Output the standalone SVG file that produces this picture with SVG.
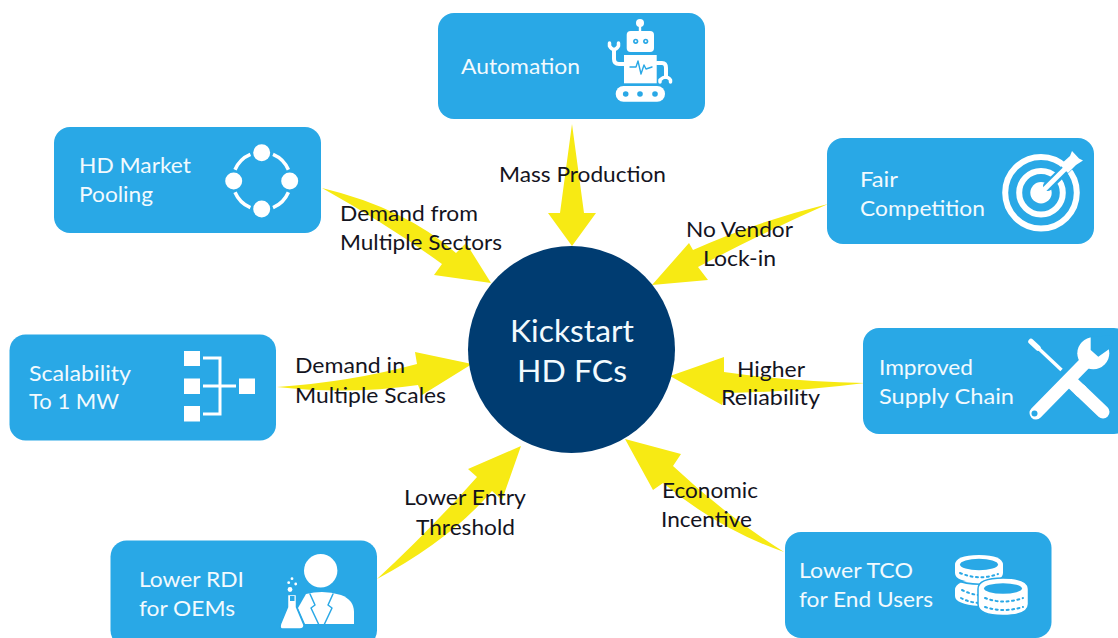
<svg xmlns="http://www.w3.org/2000/svg" width="1118" height="638" viewBox="0 0 1118 638">
<style>
text{font-family:"Lato","Open Sans","Liberation Sans",sans-serif;font-size:22px}
.n{fill:#29A8E6}
.t{fill:#F2FAFE}
.l{fill:#14141E}
.a{fill:#F7EA14}
.w{fill:#fff}
.b{fill:#29A8E6}
.ws{fill:none;stroke:#fff;stroke-linecap:round;stroke-linejoin:round}
.bs{fill:none;stroke:#29A8E6;stroke-linecap:round;stroke-linejoin:round}
</style>
<rect width="1118" height="638" fill="#fff"/>
<g id="connectors">
<path class="a" d="M572 124L584 213L596 213L572 246L548 213L560 213Z"/>
<path class="a" d="M322 188Q405 208 456 253L466 243L491 283L434 275L442 264Q390 226 322 188Z"/>
<path class="a" d="M828 204Q755 222 693 250L689 243L652 285L708 280L698 267Q760 234 828 204Z"/>
<path class="a" d="M277 387Q350 382 417 364L415 352L472 364L422 395L418 385Q350 395 277 387Z"/>
<path class="a" d="M865 383Q795 382 724 372L724 357L670 376L722 405L725 393Q795 392 865 383Z"/>
<path class="a" d="M377 579Q430 530 477 477L468 469L521 446L502 500L492 491Q450 540 377 579Z"/>
<path class="a" d="M784 552Q725 515 673 466L681 454L625 439L653 490L663 483Q720 530 784 552Z"/>
</g>
<g id="hub">
<circle cx="571.500" cy="349.500" r="103.500" fill="#003C71"/>
<text x="510" y="342" textLength="124" lengthAdjust="spacingAndGlyphs" style="font-size:30px" class="t">Kickstart</text>
<text x="517" y="382" textLength="110" lengthAdjust="spacingAndGlyphs" style="font-size:30px" class="t">HD FCs</text>
</g>
<g id="automation">
<rect class="n" x="438" y="13" width="267" height="106" rx="16"/>
<text class="t" x="461" y="74" textLength="119" lengthAdjust="spacingAndGlyphs">Automation</text>
<circle class="w" cx="640" cy="23" r="4"/><rect class="w" x="638.800" y="25" width="2.400" height="7"/>
<rect class="w" x="626.700" y="31" width="27.300" height="21" rx="4"/>
<circle class="b" cx="635.700" cy="41.300" r="2.600"/><circle class="w" cx="635.700" cy="41.300" r="1"/>
<circle class="b" cx="645.700" cy="41.300" r="2.600"/><circle class="w" cx="645.700" cy="41.300" r="1"/>
<rect class="w" x="624" y="55" width="32.700" height="28.300"/>
<path class="bs" stroke-width="1.400" d="M630 67H636L638 61L641 74L644 65L646 69L652 67"/>
<path class="ws" stroke-width="4" d="M624 64H619Q614 64 614 59V50"/>
<path class="ws" stroke-width="3.500" d="M609.500 43V46Q614 53 618.500 46V43"/>
<path class="ws" stroke-width="4" d="M657 63H662Q666 63 666 68V77"/>
<path class="ws" stroke-width="3.500" d="M660 82V80Q666 74 670.500 80V82"/>
<rect class="w" x="615.700" y="86" width="49.300" height="15.700" rx="7.800"/>
<circle class="b" cx="625.700" cy="94" r="2.800"/><circle class="b" cx="640" cy="94" r="2.800"/><circle class="b" cx="655" cy="94" r="2.800"/>
</g>
<g id="hd-market-pooling">
<rect class="n" x="54" y="127" width="267" height="106" rx="16"/>
<text class="t" x="79" y="173" textLength="112" lengthAdjust="spacingAndGlyphs">HD Market</text>
<text class="t" x="79" y="202" textLength="74" lengthAdjust="spacingAndGlyphs">Pooling</text>
<circle class="w" cx="261.700" cy="152.700" r="8.500"/><circle class="w" cx="233.700" cy="181" r="8.500"/><circle class="w" cx="289.700" cy="181" r="8.500"/><circle class="w" cx="261.700" cy="209" r="8.500"/>
<path fill="none" stroke="#fff" stroke-width="3.500" d="M273 154.300A29 29 0 0 1 288.400 169.700M288.400 192.300A29 29 0 0 1 273 207.700M250.400 207.700A29 29 0 0 1 235 192.300M235 169.700A29 29 0 0 1 250.400 154.300"/>
</g>
<g id="fair-competition">
<rect class="n" x="827" y="138" width="267" height="106" rx="16"/>
<text class="t" x="860" y="187" textLength="38" lengthAdjust="spacingAndGlyphs">Fair</text>
<text class="t" x="860" y="216" textLength="125" lengthAdjust="spacingAndGlyphs">Competition</text>
<circle cx="1041" cy="192.700" r="35.800" fill="none" stroke="#fff" stroke-width="6"/>
<circle cx="1041" cy="192.700" r="21.800" fill="none" stroke="#fff" stroke-width="6"/>
<circle class="w" cx="1041" cy="192.700" r="10.700"/>
<path class="bs" stroke-width="10" stroke-linecap="butt" d="M1048 186L1078 157"/>
<path fill="none" stroke="#fff" stroke-width="5" d="M1041 192.700L1070 164"/>
<path class="w" d="M1060 165L1070 156L1072 151L1079 158.500L1083 160.500L1076 165L1068 173Z"/>
</g>
<g id="scalability">
<rect class="n" x="9.500" y="334.500" width="266.500" height="106" rx="16"/>
<text class="t" x="29" y="381" textLength="102" lengthAdjust="spacingAndGlyphs">Scalability</text>
<text class="t" x="29" y="409" textLength="90" lengthAdjust="spacingAndGlyphs">To 1 MW</text>
<rect class="w" x="184" y="351" width="16" height="15"/><rect class="w" x="184" y="378.500" width="16" height="15.500"/><rect class="w" x="184" y="406" width="16" height="15.500"/><rect class="w" x="239" y="378.500" width="16" height="15.500"/>
<path fill="none" stroke="#fff" stroke-width="3" d="M203 358H220V414H203M203 386H236"/>
</g>
<g id="improved-supply-chain">
<rect class="n" x="863" y="328" width="267" height="106" rx="16"/>
<text class="t" x="879" y="375" textLength="94" lengthAdjust="spacingAndGlyphs">Improved</text>
<text class="t" x="879" y="404" textLength="135" lengthAdjust="spacingAndGlyphs">Supply Chain</text>
<path class="ws" stroke-width="5.500" d="M1031 341.500L1038 348"/>
<path fill="none" stroke="#fff" stroke-width="3.500" d="M1036 346L1061.500 370"/>
<path class="ws" stroke-width="13" d="M1080 390L1103 412"/>
<path fill="none" stroke="#fff" stroke-width="13" d="M1072 382.500L1082 392"/>
<path fill="#fff" stroke="#fff" stroke-width="13" stroke-linecap="round" d="M1036 413L1086 362"/>
<circle class="w" cx="1093.300" cy="353.300" r="16"/>
<path class="b" d="M1090.700 337L1090.700 350L1098.300 356.700L1111.700 347.300L1114 335Z"/>
<circle class="b" cx="1034.500" cy="413.500" r="3"/>
</g>
<g id="lower-rdi">
<rect class="n" x="110.500" y="540.500" width="266.500" height="106" rx="16"/>
<text class="t" x="139" y="587" textLength="105" lengthAdjust="spacingAndGlyphs">Lower RDI</text>
<text class="t" x="139" y="616" textLength="96" lengthAdjust="spacingAndGlyphs">for OEMs</text>
<circle class="w" cx="320.700" cy="570.700" r="16.700"/>
<path class="w" d="M306 594Q314 592 322 592Q331 592 341 595Q354 600 354 612V624H305L298 608Z"/>
<path class="bs" stroke-width="1.500" stroke-linecap="butt" d="M310 594L315 605L311 608L319 625M333 594L328 605L332 608L324 625"/>
<path class="w" stroke="#29A8E6" stroke-width="1.500" d="M287.500 594.500H296.500V607L304 625Q304 629 300 629H283Q279 629 280.500 624L287.500 607Z"/>
<rect class="b" x="290" y="596" width="4.500" height="5"/>
<circle class="w" cx="290" cy="589.500" r="2.400"/><circle class="w" cx="288.700" cy="582.700" r="1.400"/><circle class="w" cx="295.700" cy="584" r="1.400"/><circle class="w" cx="292" cy="578.700" r="1.400"/>
</g>
<g id="lower-tco">
<rect class="n" x="785" y="532" width="266.500" height="106" rx="16"/>
<text class="t" x="799" y="578" textLength="114" lengthAdjust="spacingAndGlyphs">Lower TCO</text>
<text class="t" x="799" y="607" textLength="134" lengthAdjust="spacingAndGlyphs">for End Users</text>
<path class="w" d="M955 590Q955 580 979 580Q1007 580 1007 590V598Q1007 606 979 606Q955 604 955 596Z"/>
<path class="w" d="M955 565Q955 555 979 555Q1003 555 1003 565V573Q1003 582 979 582Q955 582 955 573Z"/>
<path class="bs" stroke-width="1.500" stroke-linecap="butt" d="M955 580Q968 585 985 584"/>
<ellipse class="b" cx="979" cy="564.500" rx="19" ry="5.700"/>
<path class="bs" stroke-width="2" stroke-linecap="butt" stroke-dasharray="2 3.500" d="M960 573Q979 581 998 574M962 590Q970 594 978 595M961 598Q968 602 978 603"/>
<path fill="#fff" stroke="#29A8E6" stroke-width="1.500" d="M978 589Q978 578 1003 578Q1028.500 578 1028.500 589V604Q1028.500 615.500 1003 615.500Q978 615.500 978 604Z"/>
<ellipse class="b" cx="1003" cy="588.500" rx="19" ry="5.200"/>
<path class="bs" stroke-width="2" stroke-linecap="butt" stroke-dasharray="2 3.500" d="M985 598Q1003 605 1023 598M985 607Q1003 613 1023 607"/>
</g>
<g id="labels">
<text class="l" x="499" y="182" textLength="167" lengthAdjust="spacingAndGlyphs">Mass Production</text>
<text class="l" x="340" y="221" textLength="138" lengthAdjust="spacingAndGlyphs">Demand from</text>
<text class="l" x="340" y="250" textLength="162" lengthAdjust="spacingAndGlyphs">Multiple Sectors</text>
<text class="l" x="686" y="237" textLength="107" lengthAdjust="spacingAndGlyphs">No Vendor</text>
<text class="l" x="703" y="266" textLength="73" lengthAdjust="spacingAndGlyphs">Lock-in</text>
<text class="l" x="295" y="373" textLength="110" lengthAdjust="spacingAndGlyphs">Demand in</text>
<text class="l" x="295" y="403" textLength="151" lengthAdjust="spacingAndGlyphs">Multiple Scales</text>
<text class="l" x="737" y="377" textLength="68" lengthAdjust="spacingAndGlyphs">Higher</text>
<text class="l" x="721" y="405" textLength="99" lengthAdjust="spacingAndGlyphs">Reliability</text>
<text class="l" x="404" y="505" textLength="122" lengthAdjust="spacingAndGlyphs">Lower Entry</text>
<text class="l" x="416" y="535" textLength="99" lengthAdjust="spacingAndGlyphs">Threshold</text>
<text class="l" x="662" y="498" textLength="96" lengthAdjust="spacingAndGlyphs">Economic</text>
<text class="l" x="661" y="527" textLength="91" lengthAdjust="spacingAndGlyphs">Incentive</text>
</g>
</svg>
